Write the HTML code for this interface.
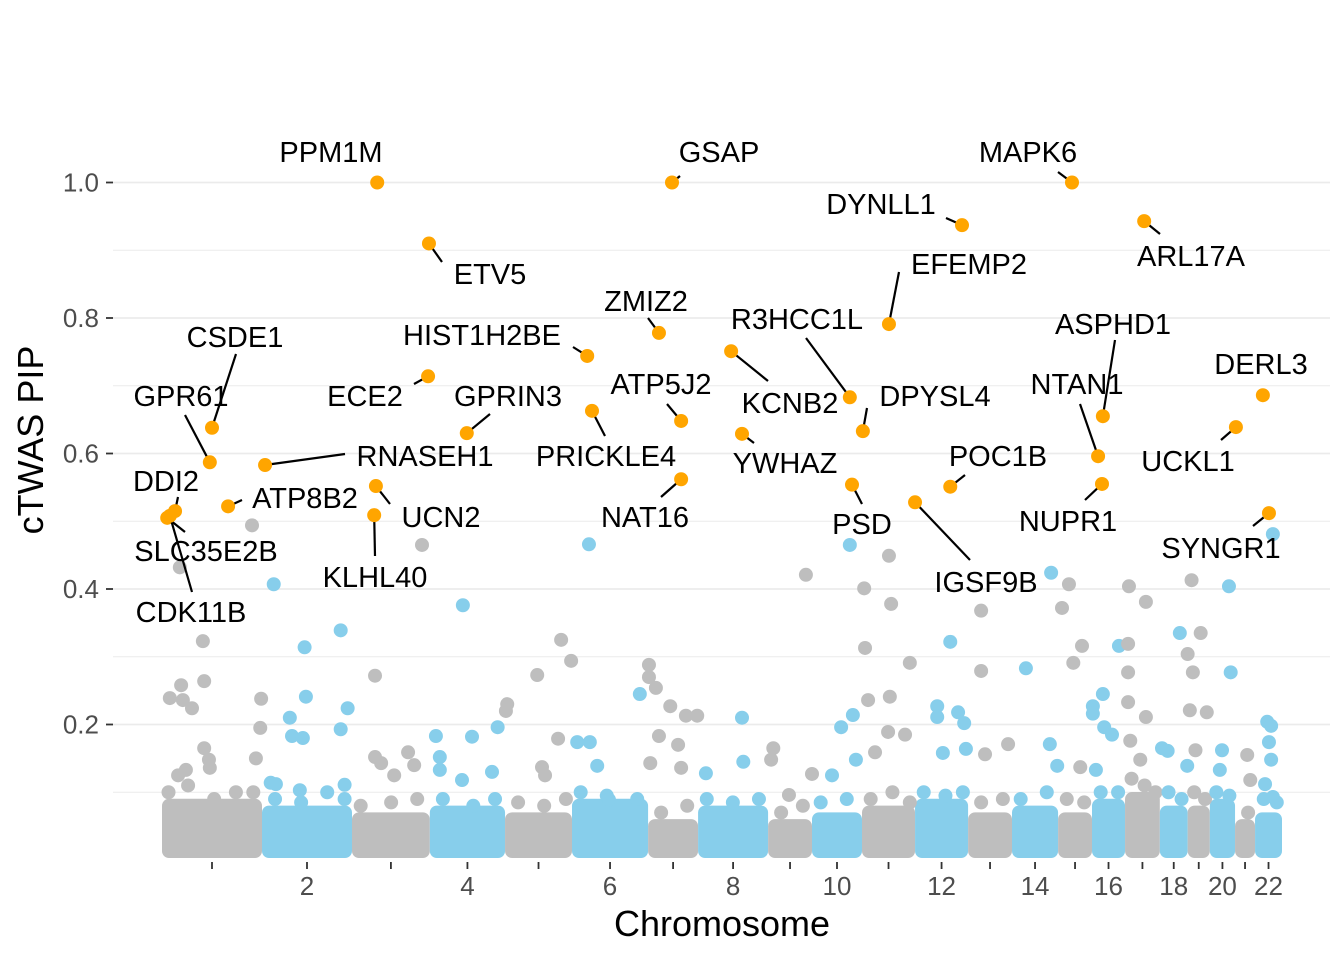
<!DOCTYPE html>
<html><head><meta charset="utf-8"><style>
body{margin:0;background:#fff}
svg{display:block;font-family:"Liberation Sans",sans-serif}
</style></head><body>
<svg id="chart" width="1344" height="960" viewBox="0 0 1344 960" xmlns="http://www.w3.org/2000/svg"></svg>
<script>
const chrLen=[230,207,179,173,154,175,115,161,101,115,122,122,101,106,78,76,80,64,51,58,46,62];
const yTicks=[0.2,0.4,0.6,0.8,1.0];
const xTickLabels=["","2","","4","","6","","8","","10","","12","","14","","16","","18","","20","","22"];
const floorTop=[0.08,0.07,0.06,0.07,0.06,0.08,0.05,0.07,0.05,0.06,0.07,0.08,0.06,0.07,0.06,0.08,0.09,0.07,0.07,0.08,0.05,0.06];
const bgChr=[1,1,1,1,1,1,1,1,1,1,1,1,1,1,1,1,
2,2,2,2,2,2,2,2,2,2,2,2,2,
3,3,3,3,3,3,3,
4,4,4,4,4,4,4,4,
5,5,5,5,5,5,5,5,
6,6,6,6,6,6,
7,7,7,7,7,7,7,7,7,7,
8,8,8,
9,9,9,9,9,
10,10,10,10,10,
11,11,11,11,11,11,11,11,11,11,
12,12,12,12,12,12,12,
13,13,13,13,
14,14,14,14,
15,15,15,15,15,
16,16,16,16,16,16,16,
17,17,17,17,17,17,17,17,
18,18,18,18,
19,19,19,19,19,19,19,
20,20,20,20,
21,21,
22,22,22,22,22,22,22];
const bgPos=[207,41,94,97,44,18,48,69,97,108,110,37,55,228,226,216,
27,98,101,181,197,181,64,69,94,20,32,87,190,
161,53,53,67,129,143,97,
76,14,23,23,97,156,74,143,
5,2,74,129,152,122,85,92,
39,12,41,58,85,156,
2,2,18,51,87,113,25,69,5,76,
101,18,104,
87,12,7,101,48,
87,94,67,46,101,
62,5,67,7,14,64,110,60,99,30,
81,51,51,99,113,64,117,
30,30,92,39,
90,32,87,104,
25,9,55,35,51,
62,25,2,2,28,46,9,
9,48,7,7,7,48,12,35,
46,5,18,63,
9,30,0,12,5,18,44,
44,48,28,23,
28,35,
41,28,37,32,37,23,41];
const bgPip=[.494,.432,.323,.264,.258,.239,.236,.224,.165,.148,.136,.125,.133,.238,.195,.15,
.407,.314,.241,.339,.224,.193,.21,.183,.18,.114,.112,.103,.111,
.465,.272,.152,.143,.159,.14,.125,
.376,.183,.152,.133,.182,.196,.118,.13,
.23,.22,.273,.325,.294,.179,.137,.125,
.466,.174,.174,.139,.089,.245,
.288,.27,.254,.227,.213,.213,.183,.17,.143,.136,
.21,.128,.145,
.421,.165,.148,.127,.096,
.465,.214,.196,.125,.148,
.449,.401,.378,.313,.236,.241,.291,.189,.185,.159,
.322,.227,.211,.218,.202,.158,.164,
.368,.279,.171,.156,
.424,.283,.171,.139,
.407,.372,.316,.291,.137,
.316,.245,.227,.216,.196,.185,.133,
.404,.381,.319,.277,.233,.211,.176,.148,
.335,.165,.161,.139,
.413,.335,.304,.277,.221,.162,.218,
.404,.277,.162,.133,
.155,.118,
.481,.204,.198,.174,.148,.112,.093];
const fringeChr=[1,1,1,1,1,2,2,2,2,3,3,3,4,4,4,5,5,5,6,6,6,7,7,8,8,8,9,9,10,10,11,11,11,12,12,12,13,13,14,14,15,15,16,16,17,17,17,18,18,19,19,20,20,21,22,22];
const fringePos=[15,60,120,170,210,30,90,150,190,20,90,150,30,100,150,30,90,140,20,80,150,30,90,20,80,140,30,80,20,80,20,70,110,20,70,110,30,80,20,80,20,60,20,60,15,45,70,20,50,15,40,15,45,30,20,50];
const fringePip=[.10,.11,.09,.1,.1,.09,.085,.1,.09,.08,.085,.09,.09,.08,.09,.085,.08,.09,.1,.095,.09,.07,.08,.09,.085,.09,.07,.08,.085,.09,.09,.1,.085,.1,.095,.1,.085,.09,.09,.1,.09,.085,.1,.1,.12,.11,.1,.1,.09,.1,.09,.1,.095,.07,.09,.085];
const geneNames=["PPM1M","ETV5","GSAP","DYNLL1","MAPK6","ARL17A","EFEMP2","ZMIZ2","HIST1H2BE","KCNB2","R3HCC1L","DPYSL4","ECE2","GPRIN3","ATP5J2","PRICKLE4","ASPHD1","NTAN1","DERL3","UCKL1","CSDE1","GPR61","RNASEH1","DDI2","SLC35E2B","CDK11B","ATP8B2","UCN2","KLHL40","NAT16","YWHAZ","PSD","POC1B","IGSF9B","NUPR1","SYNGR1"];
const geneChr=[3,3,7,12,15,17,11,7,6,8,10,11,3,4,7,6,16,16,22,20,1,1,2,1,1,1,1,3,3,7,8,10,12,11,16,22];
const genePos=[58,177,55,108,32,44,62,25,35,76,87,2,175,85,76,46,25,14,18,60,115,110,7,30,12,18,152,55,51,76,101,92,81,122,23,32];
const genePip=[1.0,.91,1.0,.937,1.0,.943,.791,.778,.744,.751,.683,.633,.714,.630,.648,.663,.655,.596,.686,.639,.638,.587,.583,.515,.505,.508,.522,.552,.509,.562,.629,.554,.551,.528,.555,.512];
// label layout (pixel placement of text centres and leader line ends), not data
const labelXY=[[331,152],[490,274],[719,152],[881,204],[1028,152],[1191,256],[969,264],[646,301],[482,335],[790,403],[797,319],[935,396],[365,396],[508,396],[661,384],[606,456],[1113,324],[1077,384],[1261,364],[1188,461],[235,337],[181,396],[425,456],[166,481],[206,551],[191,612],[305,498],[441,517],[375,577],[645,517],[785,463],[862,524],[998,456],[986,582],[1068,521],[1221,548]];
const leaderEnd=[null,[442,262],[680,176],[946,218],[1058,172],[1160,234],[899,272],[648,318],[573,347],[768,381],[806,338],[867,408],[414,384],[490,414],[667,404],[605,436],[1115,340],[1080,404],null,[1221,440],[236,354],[185,415],[345,454],[178,497],[185,532],[192,592],[242,500],[390,504],[375,556],[661,497],[754,443],[862,504],[965,475],[970,560],[1085,500],[1253,526]];

const NS="http://www.w3.org/2000/svg";
const svg=document.getElementById('chart');
const X0=162,X1=1282,Y0=860,YSCALE=677.5;
const total=chrLen.reduce((a,b)=>a+b,0);
const cum=[];let acc=0;for(const l of chrLen){cum.push(acc);acc+=l;}
const xs=(chr,pos)=>X0+(cum[chr-1]+pos)*(X1-X0)/total;
const ys=p=>Y0-p*YSCALE;
function mk(tag,attrs,parent){const e=document.createElementNS(NS,tag);for(const k in attrs)e.setAttribute(k,attrs[k]);(parent||svg).appendChild(e);return e;}
const colorOf=c=>c%2===1?"#bebebe":"#87ceeb";

const grid=mk('g',{});


for(let v=0.1;v<1.05;v+=0.1){
  const major=Math.round(v*10)%2===0;
  const g=mk('line',{x1:113,x2:1330,y1:ys(v),y2:ys(v),stroke:"#ebebeb","stroke-width":major?1.8:0.9},grid);
  
  
}
const yax=mk('g',{});


yTicks.forEach(v=>{
  const t=mk('line',{x1:106,x2:113,y1:ys(v),y2:ys(v),stroke:"#333","stroke-width":1.8},yax);
  
  
  const l=mk('text',{x:99,y:ys(v)+9,"text-anchor":"end","font-size":26,fill:"#4d4d4d"},yax);
  l.textContent=v.toFixed(1);
  
  
});
const xax=mk('g',{});


chrLen.forEach((l,i)=>{
  const x=xs(i+1,l/2);
  const t=mk('line',{x1:x,x2:x,y1:862,y2:869,stroke:"#333","stroke-width":1.8},xax);
  
  
  if(xTickLabels[i]){
    const tx=mk('text',{x:x,y:895,"text-anchor":"middle","font-size":26,fill:"#4d4d4d"},xax);
    tx.textContent=xTickLabels[i];
    
    
  }
});
const xt=mk('text',{x:722,y:936,"text-anchor":"middle","font-size":36,fill:"#000"});
xt.textContent="Chromosome";


const yt=mk('text',{x:0,y:0,"text-anchor":"middle","font-size":36,fill:"#000",transform:"translate(43,440) rotate(-90)"});
yt.textContent="cTWAS PIP";



const R=7;
chrLen.forEach((l,i)=>{
  const x1=xs(i+1,0),x2=xs(i+1,l);
  const top=ys(floorTop[i])-R;
  const b=mk('rect',{x:x1,y:top,width:Math.max(0,x2-x1),height:858-top,rx:R,fill:colorOf(i+1)});
  
  
});
fringeChr.forEach((c,i)=>{
  const p=mk('circle',{cx:xs(c,fringePos[i]),cy:ys(fringePip[i]),r:R,fill:colorOf(c)});
  
  
});
bgChr.forEach((c,i)=>{
  const p=mk('circle',{cx:xs(c,bgPos[i]),cy:ys(bgPip[i]),r:R,fill:colorOf(c)});
  
  
});
geneNames.forEach((n,i)=>{
  const cx=xs(geneChr[i],genePos[i]),cy=ys(genePip[i]);
  const e=leaderEnd[i];
  if(e){
    const ln=mk('line',{x1:cx,y1:cy,x2:e[0],y2:e[1],stroke:"#000","stroke-width":2.2});
    
    
  }
  const p=mk('circle',{cx:cx,cy:cy,r:R,fill:"#ffa500"});
  
  
  const t=mk('text',{x:labelXY[i][0],y:labelXY[i][1]+10,"text-anchor":"middle","font-size":29,fill:"#000"});
  t.textContent=n;
  
  
});
</script>
</body></html>
